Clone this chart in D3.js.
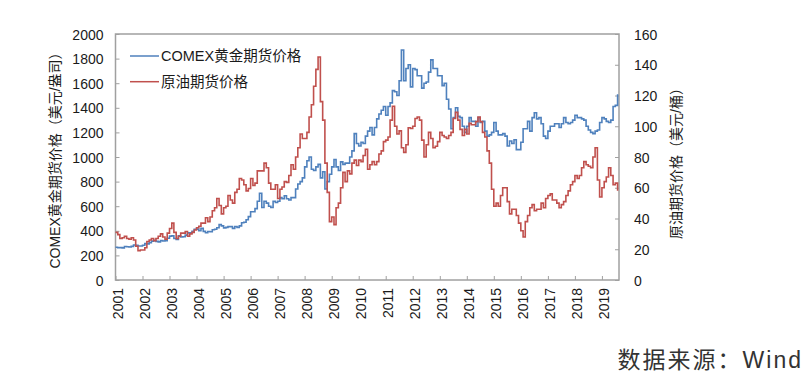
<!DOCTYPE html>
<html><head><meta charset="utf-8">
<script src="https://cdn.jsdelivr.net/npm/d3@7"></script>
<style>
html,body{margin:0;padding:0;background:#fff;}
svg{display:block;}
text{font-family:"Liberation Sans","Noto Sans CJK SC",sans-serif;fill:#1a1a1a;}
</style></head><body>
<svg id="chart" width="807" height="380"></svg>
<script>
// ---- data (monthly, Jan 2001 – Aug 2019) ----
const startMonth = "2001-01";
const goldPrice = [
266,262,263,261,272,270,268,273,285,282,276,276,
282,296,294,303,316,322,314,310,320,317,320,340,
357,360,338,330,360,350,352,365,383,383,395,412,
414,400,420,395,384,394,392,408,412,425,450,440,
424,428,434,434,420,435,428,440,466,470,490,515,
555,555,580,640,705,590,640,625,600,590,640,630,
640,670,660,685,660,650,670,670,740,780,800,830,
920,970,1000,900,890,920,940,830,880,740,800,860,
920,980,920,890,960,940,950,950,1000,1050,1190,1110,
1090,1120,1110,1170,1210,1240,1180,1240,1310,1350,1380,1410,
1340,1410,1440,1540,1530,1500,1620,1870,1620,1720,1750,1570,
1720,1710,1660,1660,1560,1600,1610,1690,1790,1720,1720,1660,
1660,1580,1600,1470,1390,1230,1320,1400,1330,1320,1250,1200,
1250,1320,1290,1290,1250,1320,1280,1290,1210,1170,1180,1200,
1280,1210,1180,1180,1190,1170,1090,1130,1110,1140,1060,1060,
1120,1230,1230,1290,1210,1320,1360,1310,1320,1270,1170,1150,
1210,1250,1250,1270,1270,1240,1270,1320,1280,1270,1280,1300,
1340,1320,1320,1310,1300,1250,1220,1200,1190,1210,1220,1280,
1320,1310,1290,1280,1300,1410,1420,1510
];
const oilPrice = [
31,29.5,27,27.5,28.5,27,26.5,27.5,26,22,19,19.5,
19.5,21,25,26,27,25.5,27,28.5,30,28,26.5,30.5,
33.5,37,31,27,28.5,30.5,30.5,31.5,28.5,30,31,32.5,
34,35,37,37,40.5,38,41,45,47,53,48.5,43,
47,48,55,52,50,57,59,66,65,62,58,59.5,
66,61.5,63,71,71,71,76,73,63,59,59,62,
53,59,60.5,64,63.5,68,75,72,80,86,95,92,
92,96,106,114,126,137,145,116,104,76,57,38,
41,36,47,50,60,70,64,71,69,76,78,74.5,
78,77,81,85,72,75,77,75,77,82,84,90,
91,93,104,113,100,95,97,86,83,88,99,98.5,
100,105,106,104,91,80,88,96,92,86,87,90,
96,94,93,92,94,96,105,109,104,98,94,98,
95,102,101,101,103,106,103,96,93,84,76,59,
48,50,48,55,60,60,51,43,46,46,42,37,
32,28,38,42,47,49,45,46,46,50,47,53,
55,56,52,52,50,47,49,51,55,58,62,64,
68,66,68,73,77,75,74,73,80,86,65,54,
60,64,67,73,68,62,63,58
];
const yearLabels = ["2001","2002","2003","2004","2005","2006","2007","2008","2009","2010",
  "2011","2012","2013","2014","2015","2016","2017","2018","2019"];
const goldTicks = [0,200,400,600,800,1000,1200,1400,1600,1800,2000];
const oilTicks = [0,20,40,60,80,100,120,140,160];
const seriesNames = ["COMEX黄金期货价格","原油期货价格"];
const leftTitle = "COMEX黄金期货价格（美元/盎司）";
const rightTitle = "原油期货价格（美元/桶）";
const sourceText = "数据来源：Wind";

// ---- layout ----
const M = {left:115.5, top:34, right:619, bottom:280};
const svg = d3.select("#chart");
const parse = d3.timeParse("%Y-%m");
const t0 = parse(startMonth);
const dates = goldPrice.map((d,i)=>d3.timeMonth.offset(t0,i));
const x = d3.scaleTime().domain([t0, new Date(2019,7,20)]).range([M.left, M.right]);
const yL = d3.scaleLinear().domain([0,2000]).range([M.bottom, M.top]);
const yR = d3.scaleLinear().domain([0,160]).range([M.bottom, M.top]);

const blue = "#4f81bd", red = "#c0504d";

// frame
svg.append("rect").attr("x",M.left).attr("y",M.top)
  .attr("width",M.right-M.left).attr("height",M.bottom-M.top)
  .attr("fill","none").attr("stroke","#a0a0a0").attr("stroke-width",1.5);

// left axis
const axL = svg.append("g").attr("transform",`translate(${M.left},0)`)
  .call(d3.axisRight(yL).tickValues(goldTicks).tickSize(4).tickFormat(d3.format("d")));
axL.select(".domain").remove();
axL.selectAll("line").attr("stroke","#a0a0a0").attr("stroke-width",1);
axL.selectAll("text").attr("x",-12).attr("text-anchor","end").attr("font-size",14).attr("dy","0.36em");

// right axis
const axR = svg.append("g").attr("transform",`translate(${M.right},0)`)
  .call(d3.axisLeft(yR).tickValues(oilTicks).tickSize(4).tickFormat(d3.format("d")));
axR.select(".domain").remove();
axR.selectAll("line").attr("stroke","#a0a0a0").attr("stroke-width",1);
axR.selectAll("text").attr("x",15).attr("text-anchor","start").attr("font-size",14).attr("dy","0.36em");

// bottom axis
const yearDates = yearLabels.map(y=>new Date(+y,0,1));
const axB = svg.append("g").attr("transform",`translate(0,${M.bottom})`)
  .call(d3.axisTop(x).tickValues(yearDates).tickSize(4).tickFormat(d3.timeFormat("%Y")));
axB.select(".domain").remove();
axB.selectAll("line").attr("stroke","#a0a0a0").attr("stroke-width",1);
axB.selectAll("text").attr("transform","rotate(-90)").attr("x",-8).attr("y",2)
  .attr("dy","0.36em").attr("text-anchor","end").attr("font-size",14);

// lines
const lineG = d3.line().curve(d3.curveStepAfter).x((d,i)=>x(dates[i])).y(d=>yL(d));
const lineO = d3.line().curve(d3.curveStepAfter).x((d,i)=>x(dates[i])).y(d=>yR(d));
svg.append("path").datum(goldPrice).attr("d",lineG).attr("fill","none")
  .attr("stroke",blue).attr("stroke-width",1.6);
svg.append("path").datum(oilPrice).attr("d",lineO).attr("fill","none")
  .attr("stroke",red).attr("stroke-width",1.6);

// legend
const leg = svg.append("g");
[blue, red].forEach((c,i)=>{
  const yy = 56 + i*25.7;
  leg.append("line").attr("x1",130).attr("x2",159).attr("y1",yy).attr("y2",yy)
    .attr("stroke",c).attr("stroke-width",1.5);
  leg.append("text").attr("x",161).attr("y",yy).attr("dy","0.36em")
    .attr("font-size",14.5).text(seriesNames[i]);
});

// axis titles
svg.append("text").attr("transform",`translate(55,157) rotate(-90)`)
  .attr("text-anchor","middle").attr("dy","0.36em").attr("font-size",14).text(leftTitle);
svg.append("text").attr("transform",`translate(676,160) rotate(-90)`)
  .attr("text-anchor","middle").attr("dy","0.36em").attr("font-size",14).text(rightTitle);

// source
svg.append("text").attr("x",803).attr("y",368).attr("text-anchor","end")
  .attr("font-family","'Noto Sans CJK SC',sans-serif").attr("font-size",23)
  .attr("letter-spacing",2).style("fill","#333").text(sourceText);
</script>
</body></html>
